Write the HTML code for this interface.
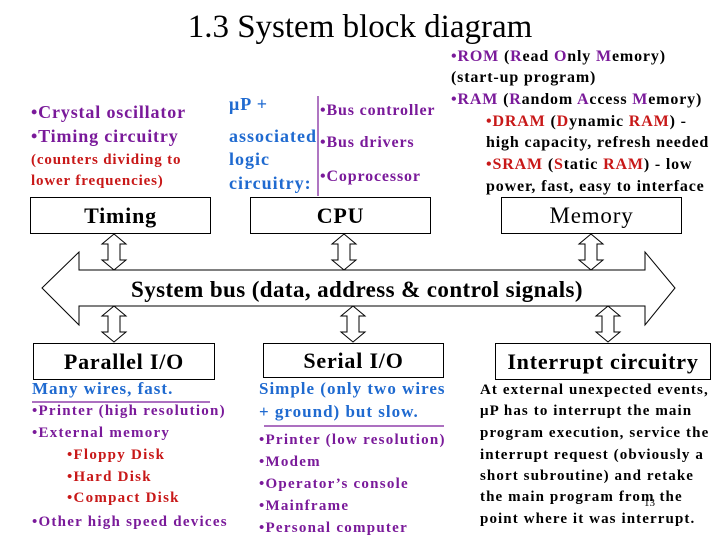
<!DOCTYPE html>
<html><head><meta charset="utf-8">
<style>
body{margin:0;width:720px;height:540px;background:#fff;position:relative;overflow:hidden;font-family:"Liberation Serif","Times New Roman",serif;}
.t{position:absolute;white-space:nowrap;font-weight:bold;line-height:1.2;}
.p{color:#7a1a9a}.r{color:#c81818}.b{color:#1f6ad0}.k{color:#000}
.box{position:absolute;border:1.3px solid #000;background:#fff;text-align:center;box-sizing:border-box;font-size:22px;line-height:35px;font-weight:bold;letter-spacing:0.8px;white-space:nowrap;}
.m{letter-spacing:0.85px}.l{letter-spacing:1.25px}.c{letter-spacing:1px}.i{letter-spacing:1.1px}
</style></head><body>
<svg width="720" height="540" style="position:absolute;left:0;top:0">
<defs><polygon id="a" points="0,0 12,10 6,10 6,26 12,26 0,36 -12,26 -6,26 -6,10 -12,10" fill="#fff" stroke="#000" stroke-width="1"/></defs>
<polygon points="42,288 79,252 79,270 645,270 645,252 675,288 645,325 645,306 79,306 79,325" fill="#fff" stroke="#000" stroke-width="1"/>
<use href="#a" x="114" y="234"/><use href="#a" x="344" y="234"/><use href="#a" x="591" y="234"/>
<use href="#a" x="114" y="306"/><use href="#a" x="353" y="306"/><use href="#a" x="608" y="306"/>
<line x1="318" y1="96" x2="318" y2="196" stroke="#7a1a9a" stroke-width="1.2"/>
<line x1="32" y1="402" x2="210" y2="402" stroke="#7a1a9a" stroke-width="1.2"/>
<line x1="264" y1="426" x2="444" y2="426" stroke="#7a1a9a" stroke-width="1.2"/>
</svg>
<div class="t k" style="left:0;width:720px;text-align:center;top:8px;font-size:33px;font-weight:normal">1.3 System block diagram</div>

<div class="box" style="left:30px;top:197px;width:181px;height:37px">Timing</div>
<div class="box" style="left:250px;top:197px;width:181px;height:37px">CPU</div>
<div class="box" style="left:501px;top:197px;width:181px;height:37px;font-weight:normal;font-size:23px">Memory</div>
<div class="box" style="left:33px;top:343px;width:182px;height:37px">Parallel I/O</div>
<div class="box" style="left:263px;top:343px;width:181px;height:35px;line-height:33px">Serial I/O</div>
<div class="box" style="left:495px;top:343px;width:216px;height:37px">Interrupt circuitry</div>
<div class="t k" style="left:0;width:714px;text-align:center;top:276px;font-size:23px;letter-spacing:0.4px">System bus (data, address &amp; control signals)</div>

<div class="t p m" style="left:31px;top:102px;font-size:18px">•Crystal oscillator</div>
<div class="t p m" style="left:31px;top:126px;font-size:18px">•Timing circuitry</div>
<div class="t r m" style="left:31px;top:151px;font-size:15px">(counters dividing to</div>
<div class="t r m" style="left:31px;top:172px;font-size:15px">lower frequencies)</div>

<div class="t b c" style="left:229px;top:94px;font-size:18px">μP +</div>
<div class="t b c" style="left:229px;top:126px;font-size:18px">associated</div>
<div class="t b c" style="left:229px;top:149px;font-size:18px">logic</div>
<div class="t b c" style="left:229px;top:173px;font-size:18px">circuitry:</div>
<div class="t p m" style="left:320px;top:101px;font-size:16px">•Bus controller</div>
<div class="t p m" style="left:320px;top:133px;font-size:16px">•Bus drivers</div>
<div class="t p m" style="left:320px;top:167px;font-size:16px">•Coprocessor</div>

<div class="t p m" style="left:451px;top:47px;font-size:16px">•ROM <span class="k">(</span>R<span class="k">ead </span>O<span class="k">nly </span>M<span class="k">emory)</span></div>
<div class="t k m" style="left:451px;top:68px;font-size:16px">(start-up program)</div>
<div class="t p m" style="left:451px;top:90px;font-size:16px">•RAM <span class="k">(</span>R<span class="k">andom </span>A<span class="k">ccess </span>M<span class="k">emory)</span></div>
<div class="t r m" style="left:486px;top:112px;font-size:16px">•DRAM <span class="k">(</span>D<span class="k">ynamic </span>RAM<span class="k">) -</span></div>
<div class="t k m" style="left:486px;top:133px;font-size:16px">high capacity, refresh needed</div>
<div class="t r m" style="left:486px;top:155px;font-size:16px">•SRAM <span class="k">(</span>S<span class="k">tatic </span>RAM<span class="k">) - low</span></div>
<div class="t k m" style="left:486px;top:177px;font-size:16px">power, fast, easy to interface</div>

<div class="t b c" style="left:32px;top:379px;font-size:17px">Many wires, fast.</div>
<div class="t p l" style="left:32px;top:402px;font-size:15px">•Printer (high resolution)</div>
<div class="t p l" style="left:32px;top:424px;font-size:15px">•External memory</div>
<div class="t r l" style="left:67px;top:446px;font-size:15px">•Floppy Disk</div>
<div class="t r l" style="left:67px;top:468px;font-size:15px">•Hard Disk</div>
<div class="t r l" style="left:67px;top:489px;font-size:15px">•Compact Disk</div>
<div class="t p l" style="left:32px;top:513px;font-size:15px">•Other high speed devices</div>

<div class="t b c" style="left:259px;top:379px;font-size:17px">Simple (only two wires</div>
<div class="t b c" style="left:259px;top:402px;font-size:17px">+ ground) but slow.</div>
<div class="t p l" style="left:259px;top:431px;font-size:15px">•Printer (low resolution)</div>
<div class="t p l" style="left:259px;top:453px;font-size:15px">•Modem</div>
<div class="t p l" style="left:259px;top:475px;font-size:15px">•Operator’s console</div>
<div class="t p l" style="left:259px;top:497px;font-size:15px">•Mainframe</div>
<div class="t p l" style="left:259px;top:519px;font-size:15px">•Personal computer</div>

<div class="t k i" style="left:480px;top:381px;font-size:15px">At external unexpected events,</div>
<div class="t k i" style="left:480px;top:402px;font-size:15px">μP has to interrupt the main</div>
<div class="t k i" style="left:480px;top:424px;font-size:15px">program execution, service the</div>
<div class="t k i" style="left:480px;top:446px;font-size:15px">interrupt request (obviously a</div>
<div class="t k i" style="left:480px;top:467px;font-size:15px">short subroutine) and retake</div>
<div class="t k i" style="left:480px;top:488px;font-size:15px">the main program from the</div>
<div class="t k i" style="left:480px;top:510px;font-size:15px">point where it was interrupt.</div>
<div class="t k" style="left:644px;top:497px;font-size:11px;font-weight:normal">13</div>
</body></html>
